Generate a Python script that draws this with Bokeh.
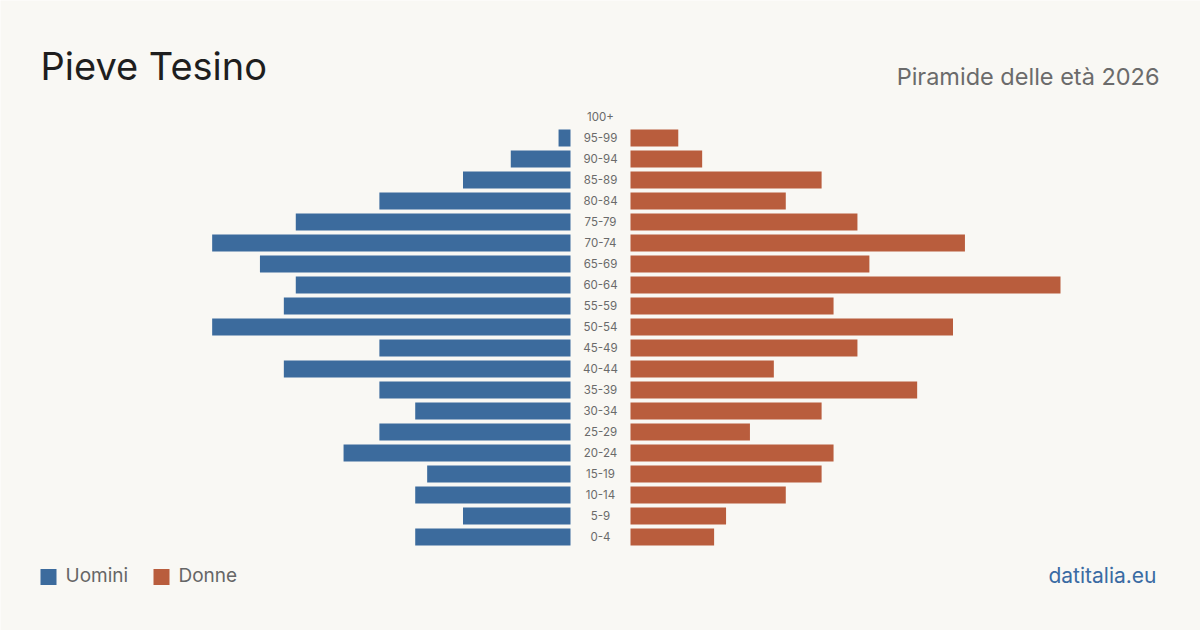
from bokeh.plotting import figure
from bokeh.models import Range1d, Label, ColumnDataSource
from bokeh.core.properties import value
from bokeh.embed import file_html
from bokeh.resources import INLINE

# Age classes (youngest first) and residents per class
age_groups = ["0-4", "5-9", "10-14", "15-19", "20-24", "25-29", "30-34", "35-39",
              "40-44", "45-49", "50-54", "55-59", "60-64", "65-69", "70-74",
              "75-79", "80-84", "85-89", "90-94", "95-99", "100+"]
men = [13, 9, 13, 12, 19, 16, 13, 16, 24, 16, 30, 24, 23, 26, 30, 23, 16, 9, 5, 1, 0]
women = [7, 8, 13, 16, 17, 10, 16, 24, 12, 19, 27, 17, 36, 20, 28, 19, 13, 16, 6, 4, 0]

title_text = "Pieve Tesino"
subtitle_text = "Piramide delle età 2026"
source_text = "datitalia.eu"
legend_labels = ["Uomini", "Donne"]

BLUE = "#3c6b9d"
RED = "#b95d3d"
BG = "#f9f8f4"
FONT = "Inter"

W, H = 1200, 630
PX_PER_UNIT = 430 / 36          # horizontal scale: people -> pixels
ROW_PX = 21                     # vertical spacing of age classes
GAP = 30 / PX_PER_UNIT          # half-width of the central label column

y0 = -93.5 / ROW_PX
p = figure(width=W, height=H, output_backend="svg", toolbar_location=None,
           x_range=Range1d(-(W / 2) / PX_PER_UNIT, (W / 2) / PX_PER_UNIT),
           y_range=Range1d(y0, y0 + H / ROW_PX),
           min_border=0, background_fill_color=BG, border_fill_color=BG)
p.axis.visible = False
p.grid.visible = False
p.outline_line_color = None

idx = list(range(len(age_groups)))
src = ColumnDataSource(dict(
    y=idx, age=age_groups,
    m_left=[-GAP - v for v in men], m_right=[-GAP] * len(men),
    w_left=[GAP] * len(women), w_right=[GAP + v for v in women],
))

p.hbar(y="y", left="m_left", right="m_right", height=17 / ROW_PX,
       fill_color=BLUE, line_color=None, source=src)
p.hbar(y="y", left="w_left", right="w_right", height=17 / ROW_PX,
       fill_color=RED, line_color=None, source=src)

p.text(x=0, y="y", text="age", source=src, text_align="center",
       text_baseline="middle", text_font=value(FONT), text_font_size="11.5px",
       text_color="#6a6a6a", y_offset=-1)

def screen_label(x, y, text, size, color, align="left"):
    p.add_layout(Label(x=x, y=H - y, x_units="screen", y_units="screen", text=text,
                       text_font=FONT, text_font_size=size, text_color=color,
                       text_align=align, text_baseline="alphabetic"))

screen_label(40, 65, title_text, "38px", "#1e1e1e")
screen_label(1159, 76, subtitle_text, "23.5px", "#6b6b6b", align="right")
screen_label(1156, 575, source_text, "21px", "#3a6ba3", align="right")
screen_label(65, 575, legend_labels[0], "19px", "#666666")
screen_label(178, 575, legend_labels[1], "19px", "#666666")

# Legend swatches, placed in data space from their pixel positions
sw_x = [(40 + 8 - W / 2) / PX_PER_UNIT, (153 + 8 - W / 2) / PX_PER_UNIT]
sw_y = [y0 + (H - 576.5) / ROW_PX] * 2
p.rect(x=sw_x, y=sw_y, width=16, height=16, width_units="screen",
       height_units="screen", fill_color=[BLUE, RED], line_color=None)

open("out.html", "w").write(file_html(p, INLINE))
